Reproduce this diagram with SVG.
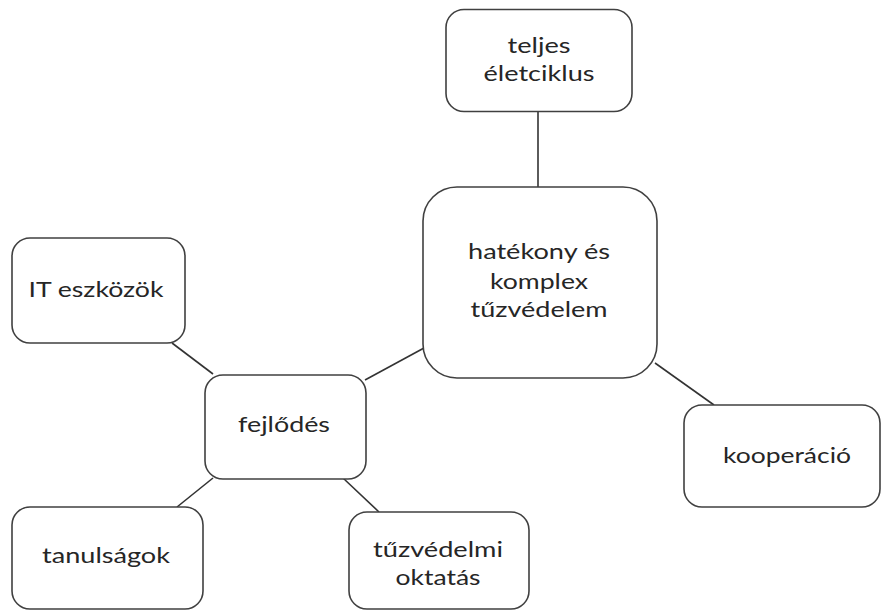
<svg xmlns="http://www.w3.org/2000/svg" width="882" height="612" viewBox="0 0 882 612">
<style>
.box{fill:#fff;stroke:#404040;stroke-width:1.6}
.lbl{font-family:Lato,"Open Sans","Liberation Sans",sans-serif;font-size:21px;fill:#262626;text-anchor:middle}
.con{stroke:#333;stroke-width:1.6;fill:none}
</style>
<rect width="882" height="612" fill="#fff"/>
<g id="connectors">
<line class="con" x1="538" y1="112" x2="538" y2="187"/>
<line class="con" x1="365" y1="380" x2="424" y2="348"/>
<line class="con" x1="655" y1="363" x2="714" y2="405"/>
<line class="con" x1="172" y1="343" x2="213" y2="374"/>
<line class="con" x1="213" y1="478" x2="177" y2="507"/>
<line class="con" x1="343" y1="478" x2="379" y2="512"/>
</g>
<g id="teljes">
<rect class="box" x="446" y="9.5" width="186" height="102" rx="18"/>
<text class="lbl" x="539" y="53" textLength="63" lengthAdjust="spacingAndGlyphs">teljes</text>
<text class="lbl" x="539" y="81" textLength="111" lengthAdjust="spacingAndGlyphs">életciklus</text>
</g>
<g id="hatekony">
<rect class="box" x="423" y="187" width="234" height="191" rx="34"/>
<text class="lbl" x="539" y="259" textLength="142" lengthAdjust="spacingAndGlyphs">hatékony és</text>
<text class="lbl" x="539" y="289" textLength="98" lengthAdjust="spacingAndGlyphs">komplex</text>
<text class="lbl" x="539" y="317" textLength="137" lengthAdjust="spacingAndGlyphs">tűzvédelem</text>
</g>
<g id="it">
<rect class="box" x="12" y="238" width="173" height="105" rx="18"/>
<text class="lbl" x="96" y="297" textLength="135" lengthAdjust="spacingAndGlyphs">IT eszközök</text>
</g>
<g id="fejlodes">
<rect class="box" x="205" y="375" width="161" height="104" rx="18"/>
<text class="lbl" x="284" y="432" textLength="92" lengthAdjust="spacingAndGlyphs">fejlődés</text>
</g>
<g id="kooperacio">
<rect class="box" x="684" y="405" width="196" height="102" rx="18"/>
<text class="lbl" x="787" y="463" textLength="128" lengthAdjust="spacingAndGlyphs">kooperáció</text>
</g>
<g id="tanulsagok">
<rect class="box" x="12" y="507" width="191" height="102" rx="18"/>
<text class="lbl" x="106" y="563" textLength="128" lengthAdjust="spacingAndGlyphs">tanulságok</text>
</g>
<g id="oktatas">
<rect class="box" x="349" y="512" width="180" height="97" rx="18"/>
<text class="lbl" x="438" y="557" textLength="130" lengthAdjust="spacingAndGlyphs">tűzvédelmi</text>
<text class="lbl" x="438" y="585" textLength="85" lengthAdjust="spacingAndGlyphs">oktatás</text>
</g>
</svg>
